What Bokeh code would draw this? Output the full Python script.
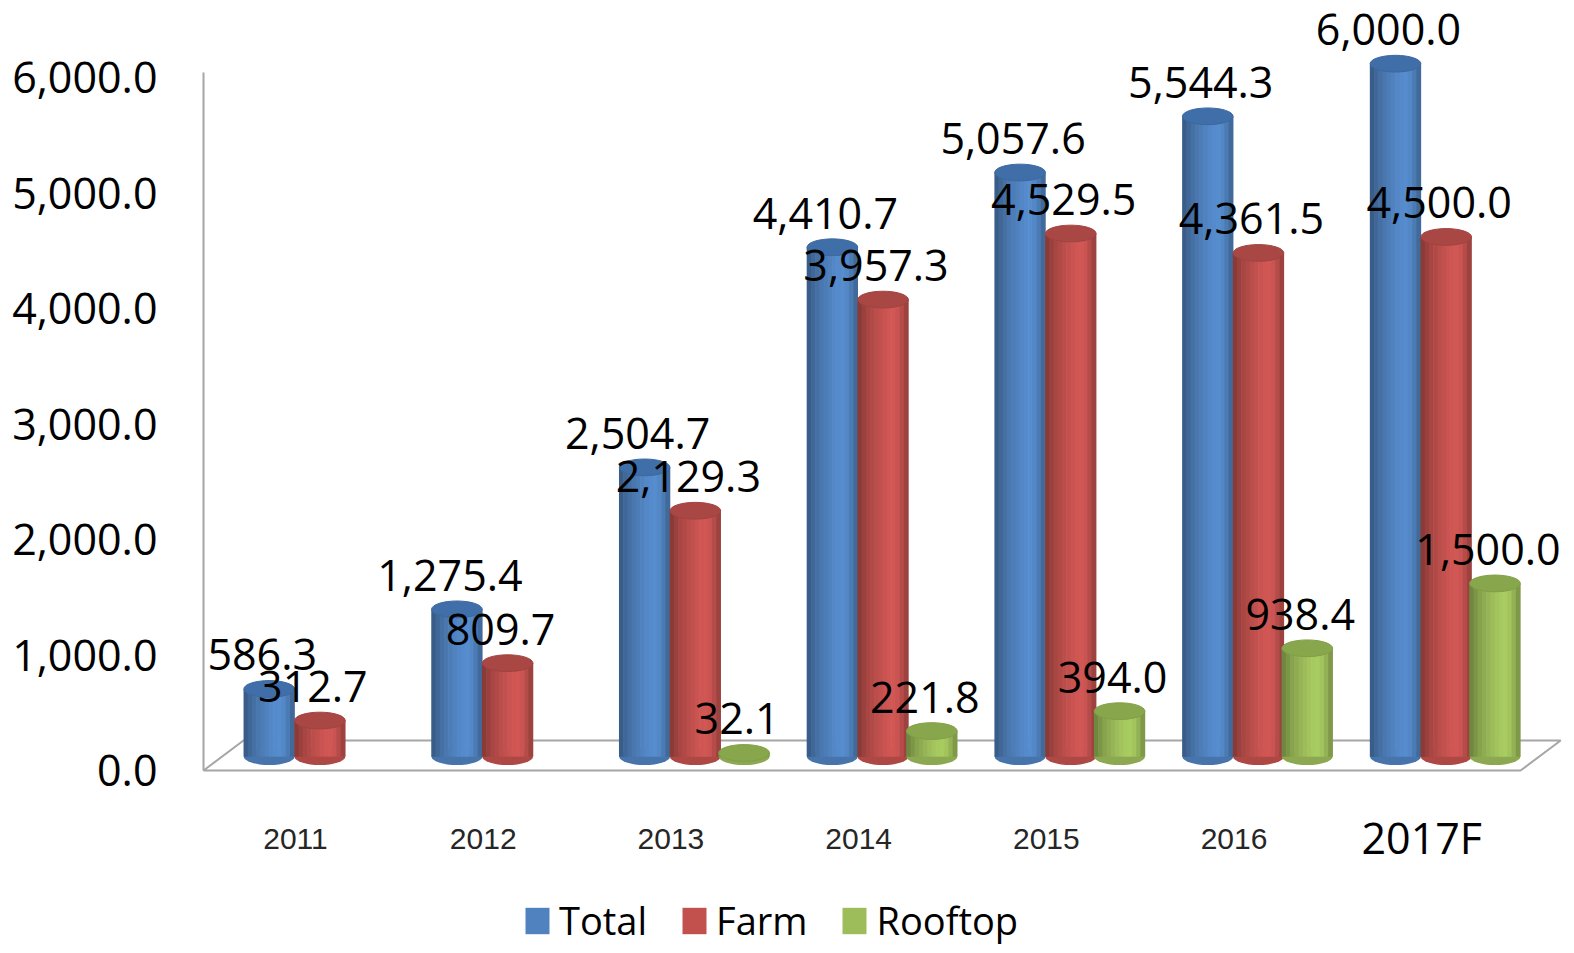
import numpy as np
from bokeh.plotting import figure
from bokeh.models import (ColumnDataSource, FixedTicker, NumeralTickFormatter,
                          Legend, LegendItem, Range1d)
from bokeh.core.properties import value
from bokeh.embed import file_html
from bokeh.resources import INLINE

# ---------------- data ----------------
years = ["2011", "2012", "2013", "2014", "2015", "2016", "2017F"]
total = [586.3, 1275.4, 2504.7, 4410.7, 5057.6, 5544.3, 6000.0]
farm = [312.7, 809.7, 2129.3, 3957.3, 4529.5, 4361.5, 4500.0]
rooftop = [None, None, 32.1, 221.8, 394.0, 938.4, 1500.0]
series_names = ["Total", "Farm", "Rooftop"]
y_ticks = [0, 1000, 2000, 3000, 4000, 5000, 6000]

# ---------------- style ----------------
base_colors = ["#4f81bd", "#c0504d", "#9bbb59"]
top_colors = ["#406ea8", "#a94744", "#88a74c"]
offsets = [-0.14, 0.13, 0.39]      # position of each series inside a group
bar_w = 0.27
DEPTH = 120                          # 3-D depth lift of bars above the floor front edge
ell_h = 145                          # height of the cylinder ellipses (data units)
shade = [0.72, 0.80, 0.87, 0.92, 0.97, 1.01, 1.05, 1.08, 1.09, 1.05, 0.95, 0.82]


def scale_color(hexc, f):
    h = hexc.lstrip("#")
    r, g, b = (int(h[i:i + 2], 16) for i in (0, 2, 4))
    r, g, b = (max(0, min(255, int(round(c * f)))) for c in (r, g, b))
    return "#%02x%02x%02x" % (r, g, b)


p = figure(width=1566, height=945, output_backend="svg", toolbar_location=None,
           x_range=Range1d(-0.506, 6.771), y_range=Range1d(-1515, 6667),
           x_axis_location=None, min_border_left=200, min_border_right=0,
           min_border_top=0, min_border_bottom=0)
p.outline_line_color = None
p.xgrid.visible = False
p.ygrid.visible = False
p.background_fill_color = "white"

yax = p.yaxis[0]
yax.ticker = FixedTicker(ticks=y_ticks)
yax.formatter = NumeralTickFormatter(format="0,0.0")
yax.major_label_text_font = "Open Sans"
yax.major_label_text_font_size = "43px"
yax.major_label_text_color = "black"
yax.major_label_standoff = 43
yax.major_tick_in = 0
yax.major_tick_out = 0
yax.minor_tick_in = 0
yax.minor_tick_out = 0
yax.axis_line_color = None

# floor and wall (3-D frame)
p.patch([-0.49, 6.526, 6.74, -0.277], [0, 0, 260, 260],
        fill_color="white", line_color="#a6a6a6", line_width=2)
p.segment(x0=[-0.49], y0=[0], x1=[-0.49], y1=[6043], line_color="#a6a6a6", line_width=2)

idx = np.arange(len(years), dtype=float)
legend_items = []
label_sources = []
for s, (name, vals) in enumerate(zip(series_names, [total, farm, rooftop])):
    keep = [i for i, v in enumerate(vals) if v is not None]
    xs = idx[keep] + offsets[s]
    v = np.array([vals[i] for i in keep], dtype=float)
    src = ColumnDataSource(dict(x=xs, top=v + DEPTH, bottom=np.full(len(v), DEPTH),
                                label=["{:,.1f}".format(t) for t in v]))
    label_sources.append(src)
    # bottom ellipse
    p.ellipse(x="x", y="bottom", width=bar_w, height=ell_h, source=src,
              fill_color=scale_color(base_colors[s], 0.9), line_color=None)
    # shaded cylinder body
    n = len(shade)
    mid = None
    for k, f in enumerate(shade):
        dx = (k + 0.5) / n * bar_w - bar_w / 2
        sub = ColumnDataSource(dict(x=xs + dx, top=v + DEPTH, bottom=np.full(len(v), DEPTH)))
        r = p.vbar(x="x", top="top", bottom="bottom", width=bar_w / n * 1.15, source=sub,
                   fill_color=scale_color(base_colors[s], f), line_color=None)
        if k == 5:
            mid = r
    # top ellipse
    p.ellipse(x="x", y="top", width=bar_w, height=ell_h, source=src,
              fill_color=top_colors[s], line_color=scale_color(top_colors[s], 0.95),
              line_width=1)
    legend_items.append(LegendItem(label=name, renderers=[mid]))

# value labels
for src in label_sources:
    p.text(x="x", y="top", text="label", source=src, text_align="center",
           text_baseline="alphabetic", x_offset=-7, y_offset=-34,
           text_font=value("Open Sans"), text_font_size="43px", text_color="black")

# category labels
cat_src = ColumnDataSource(dict(x=idx[:-1], y=np.full(len(years) - 1, -589.0), t=years[:-1]))
p.text(x="x", y="y", text="t", source=cat_src, text_align="center",
       text_baseline="alphabetic", text_font=value("Liberation Sans"),
       text_font_size="30px", text_color="#262626")
last_src = ColumnDataSource(dict(x=idx[-1:], y=[-589.0], t=years[-1:]))
p.text(x="x", y="y", text="t", source=last_src, text_align="center",
       text_baseline="alphabetic", y_offset=-1, text_font=value("Open Sans"),
       text_font_size="43px", text_color="black")

legend = Legend(items=legend_items, location=(322, -1), orientation="horizontal",
                glyph_width=30, glyph_height=33, label_standoff=7, spacing=32,
                padding=0, margin=0, border_line_color=None, background_fill_alpha=0,
                label_text_font="Open Sans", label_text_font_size="38px",
                label_text_color="black")
p.add_layout(legend)

open("out.html", "w").write(file_html(p, INLINE))
